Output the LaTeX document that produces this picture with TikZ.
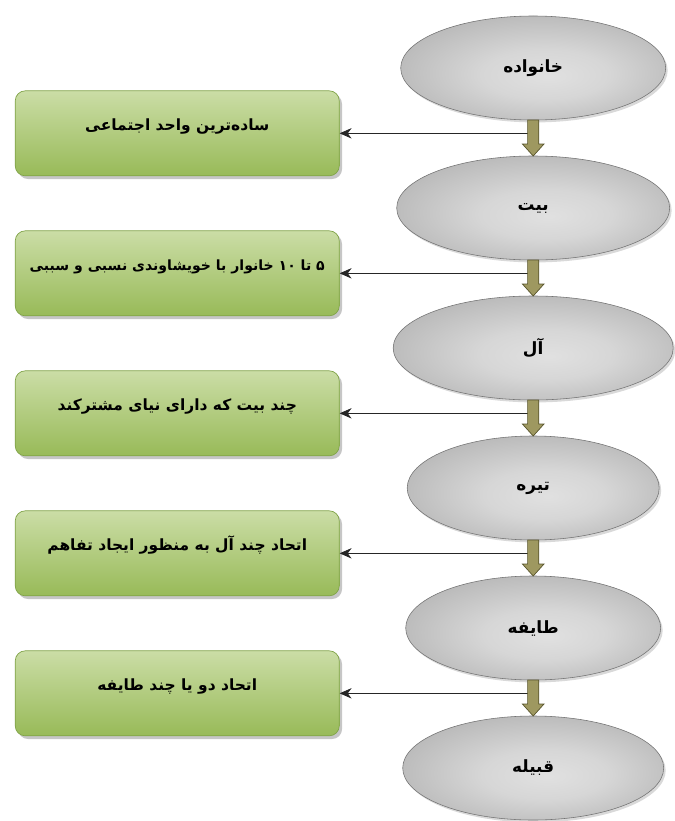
\documentclass[tikz,border=0pt]{standalone}
\usepackage{fontspec}
\usepackage{xcolor}
\usepackage{tikz}
\usetikzlibrary{shapes,arrows.meta,positioning,calc,shadows}
\newfontfamily\arabicfont[Script=Arabic]{DejaVu Sans}
\TeXXeTstate=1
\definecolor{notetop}{RGB}{203,221,166}
\definecolor{notebottom}{RGB}{152,186,88}
\definecolor{notedraw}{RGB}{128,163,72}
\definecolor{flowfill}{RGB}{158,152,96}
\definecolor{flowdraw}{RGB}{88,84,44}
\pgfdeclareradialshading{levelshade}{\pgfpoint{3bp}{-4bp}}{color(0bp)=(black!12); color(12bp)=(black!16); color(32bp)=(black!30); color(50bp)=(black!48)}

\begin{document}
\begin{tikzpicture}[
    node distance=0.9cm,
    level/.style={ellipse, draw=black!55, line width=0.4pt, shading=levelshade, minimum height=2.6cm, inner sep=0pt, outer sep=0pt, drop shadow={shadow xshift=0.05cm, shadow yshift=-0.06cm, opacity=0.3}, font=\arabicfont\bfseries\fontsize{12}{14}\selectfont},
    note/.style={rectangle, rounded corners=0.25cm, draw=notedraw, line width=0.5pt, top color=notetop, bottom color=notebottom, minimum width=8.1cm, minimum height=2.125cm, inner xsep=2pt, text height=0.3cm, text depth=0.45cm, drop shadow={shadow xshift=0.07cm, shadow yshift=-0.08cm, opacity=0.45}, font=\arabicfont\bfseries\fontsize{11}{13}\selectfont},
    link/.style={-{Stealth[length=0.3cm,width=0.26cm]}, line width=0.6pt, black!85},
    flow/.style={fill=flowfill, draw=flowdraw, line width=0.5pt, to path={let \p1=(\tikztostart.south), \p2=(\tikztotarget.north) in (\x1-0.14cm,\y1) -- (\x1+0.14cm,\y1) -- (\x1+0.14cm,\y2+0.3cm) -- (\x1+0.27cm,\y2+0.3cm) -- (\x1,\y2) -- (\x1-0.27cm,\y2+0.3cm) -- (\x1-0.14cm,\y2+0.3cm) -- cycle}}
]
\useasboundingbox (0,0) rectangle (16.85,-20.525);
\node[level, minimum width=6.625cm] (family) at (13.33,-1.7) {\beginR خانواده\endR};
\node[level, minimum width=6.825cm, below=of family] (beyt) {\beginR بیت\endR};
\node[level, minimum width=7cm, below=of beyt] (al) {\beginR آل\endR};
\node[level, minimum width=6.3cm, below=of al] (tire) {\beginR تیره\endR};
\node[level, minimum width=6.375cm, below=of tire] (tayefe) {\beginR طایفه\endR};
\node[level, minimum width=6.525cm, below=of tayefe] (qabile) {\beginR قبیله\endR};

\coordinate (g1) at ($(family.south)!0.37!(beyt.north)+(-0.14,0)$);
\coordinate (g2) at ($(beyt.south)!0.37!(al.north)+(-0.14,0)$);
\coordinate (g3) at ($(al.south)!0.37!(tire.north)+(-0.14,0)$);
\coordinate (g4) at ($(tire.south)!0.37!(tayefe.north)+(-0.14,0)$);
\coordinate (g5) at ($(tayefe.south)!0.37!(qabile.north)+(-0.14,0)$);

\node[note, left=4.7cm of g1] (simplest) {\beginR ساده‌ترین واحد اجتماعی\endR};
\node[note, left=4.7cm of g2, font=\arabicfont\bfseries\fontsize{10}{12}\selectfont] (households) {\beginR ۵ تا ۱۰ خانوار با خویشاوندی نسبی و سببی\endR};
\node[note, left=4.7cm of g3] (ancestor) {\beginR چند بیت که دارای نیای مشترکند\endR};
\node[note, left=4.7cm of g4] (accord) {\beginR اتحاد چند آل به منظور ایجاد تفاهم\endR};
\node[note, left=4.7cm of g5] (union) {\beginR اتحاد دو یا چند طایفه\endR};

\draw[link] (g1) -- (simplest);
\draw[link] (g2) -- (households);
\draw[link] (g3) -- (ancestor);
\draw[link] (g4) -- (accord);
\draw[link] (g5) -- (union);

\path[flow] (family) to (beyt);
\path[flow] (beyt) to (al);
\path[flow] (al) to (tire);
\path[flow] (tire) to (tayefe);
\path[flow] (tayefe) to (qabile);
\end{tikzpicture}
\end{document}
